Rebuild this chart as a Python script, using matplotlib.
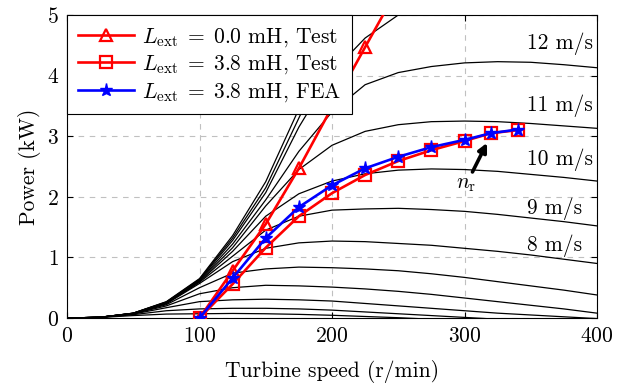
#!/usr/bin/env python

import numpy as np
import matplotlib
matplotlib.use('Agg')
import matplotlib.pyplot as plt

nan = np.nan

# turbine power curves (kW) vs speed (r/min), one per wind speed
speed = [0, 25, 50, 75, 100, 125, 150, 175, 200, 225, 250, 275, 300, 325, 350, 375, 400]

p_15ms = [0, 0.012, 0.08, 0.27, 0.65, 1.36, 2.25, 3.45, 4.7, 5.9, nan, nan, nan, nan, nan, nan, nan]
p_14ms = [0, 0.012, 0.08, 0.265, 0.64, 1.32, 2.15, 3.3, 4.45, 5.5, nan, nan, nan, nan, nan, nan, nan]
p_13ms = [0, 0.012, 0.079, 0.26, 0.63, 1.28, 2.07, 3.15, 4.05, 4.62, 5.0, 5.28, nan, nan, nan, nan, nan]
p_12ms = [0, 0.012, 0.078, 0.255, 0.62, 1.22, 1.95, 2.75, 3.4, 3.85, 4.05, 4.15, 4.21, 4.23, 4.22, 4.18, 4.13]
p_11ms = [0, 0.012, 0.077, 0.25, 0.61, 1.16, 1.85, 2.45, 2.85, 3.08, 3.19, 3.24, 3.25, 3.24, 3.21, 3.17, 3.13]
p_10ms = [0, 0.012, 0.076, 0.245, 0.6, 1.1, 1.68, 2.05, 2.26, 2.38, 2.44, 2.46, 2.45, 2.42, 2.37, 2.32, 2.26]
p_9ms = [0, 0.012, 0.075, 0.24, 0.59, 1.02, 1.45, 1.68, 1.78, 1.8, 1.81, 1.79, 1.76, 1.71, 1.65, 1.59, 1.52]
p_8ms = [0, 0.012, 0.074, 0.235, 0.57, 0.93, 1.15, 1.24, 1.27, 1.26, 1.23, 1.2, 1.15, 1.1, 1.04, 0.97, 0.9]
p_7ms = [0, 0.012, 0.072, 0.22, 0.5, 0.74, 0.81, 0.84, 0.83, 0.81, 0.78, 0.73, 0.67, 0.6, 0.53, 0.46, 0.38]
p_6ms = [0, 0.012, 0.07, 0.2, 0.4, 0.5, 0.54, 0.53, 0.51, 0.48, 0.44, 0.39, 0.33, 0.27, 0.21, 0.15, 0.08]
p_5ms = [0, 0.011, 0.065, 0.17, 0.27, 0.3, 0.31, 0.3, 0.28, 0.24, 0.2, 0.16, 0.12, 0.08, 0.05, 0.02, -0.01]
p_4ms = [0, 0.01, 0.055, 0.12, 0.15, 0.16, 0.16, 0.15, 0.13, 0.1, 0.07, 0.04, 0.01, -0.02, nan, nan, nan]
p_3ms = [0, 0.009, 0.04, 0.065, 0.07, 0.075, 0.07, 0.06, 0.045, 0.025, 0.005, -0.02, nan, nan, nan, nan, nan]

wind_curves = [p_3ms, p_4ms, p_5ms, p_6ms, p_7ms, p_8ms, p_9ms,
               p_10ms, p_11ms, p_12ms, p_13ms, p_14ms, p_15ms]

# labelled wind speeds and where the labels sit (power, kW)
wind_labels = ['12 m/s', '11 m/s', '10 m/s', '9 m/s', '8 m/s']
wind_label_y = [4.52, 3.5, 2.61, 1.81, 1.2]

# measured / simulated points
n_test0 = [100, 125, 150, 175, 200, 225, 250]
p_test0 = [0, 0.78, 1.55, 2.47, 3.48, 4.47, 5.45]

n_test38 = [100, 125, 150, 175, 200, 225, 250, 275, 300, 320, 340]
p_test38 = [0, 0.56, 1.16, 1.68, 2.06, 2.36, 2.59, 2.77, 2.92, 3.05, 3.10]

n_fea38 = [100, 125, 150, 175, 200, 225, 250, 275, 300, 320, 340]
p_fea38 = [0, 0.66, 1.32, 1.83, 2.19, 2.47, 2.66, 2.82, 2.94, 3.05, 3.11]

plt.rcParams['font.family'] = 'cmr10'
plt.rcParams['mathtext.fontset'] = 'cm'
plt.rcParams['axes.formatter.use_mathtext'] = True
plt.rcParams['font.size'] = 15.5

fig = plt.figure(figsize=(6.25, 3.88), dpi=100)
ax = fig.add_axes([0.1072, 0.1804, 0.848, 0.7809])

for p in wind_curves:
    ax.plot(speed, p, color='black', lw=0.9, zorder=2)

for lab, y in zip(wind_labels, wind_label_y):
    ax.text(347, y, lab, ha='left', va='center', zorder=3)

ax.plot(n_test0, p_test0, color='red', lw=1.9, marker='^', ms=9,
        mfc='none', mew=1.6, label=r'$L_{\mathrm{ext}}\;=\;0.0$ mH, Test', zorder=4)
ax.plot(n_test38, p_test38, color='red', lw=1.9, marker='s', ms=8.5,
        mfc='none', mew=1.6, label=r'$L_{\mathrm{ext}}\;=\;3.8$ mH, Test', zorder=4)
ax.plot(n_fea38, p_fea38, color='blue', lw=1.9, marker='*', ms=9.5,
        label=r'$L_{\mathrm{ext}}\;=\;3.8$ mH, FEA', zorder=5)

# rated speed arrow
ax.annotate('', xy=(317, 2.89), xytext=(306, 2.41),
            arrowprops=dict(arrowstyle='-|>', color='black', lw=2.6,
                            mutation_scale=13, shrinkA=0, shrinkB=0), zorder=6)
ax.text(301, 2.2, r'$n_{\mathrm{r}}$', ha='center', va='center')

ax.set_xlim(0, 400)
ax.set_ylim(0, 5)
ax.set_xticks([0, 100, 200, 300, 400])
ax.set_yticks([0, 1, 2, 3, 4, 5])
ax.tick_params(direction='in', top=True, right=True, length=4, width=0.8, pad=6)
ax.grid(True, color='#c0c0c0', ls=(0, (5, 5)), lw=0.8)
ax.set_axisbelow(True)
for s in ax.spines.values():
    s.set_linewidth(0.8)

ax.set_xlabel('Turbine speed (r/min)', labelpad=10)
ax.set_ylabel('Power (kW)', labelpad=4)

leg = ax.legend(loc='upper left', bbox_to_anchor=(0, 1), borderaxespad=0,
                fancybox=False, framealpha=1, edgecolor='black',
                handlelength=2.6, borderpad=0.5, labelspacing=0.22,
                handletextpad=0.4)
leg.get_frame().set_linewidth(0.8)
leg.set_zorder(10)

fig.savefig('out.png', dpi=100)
